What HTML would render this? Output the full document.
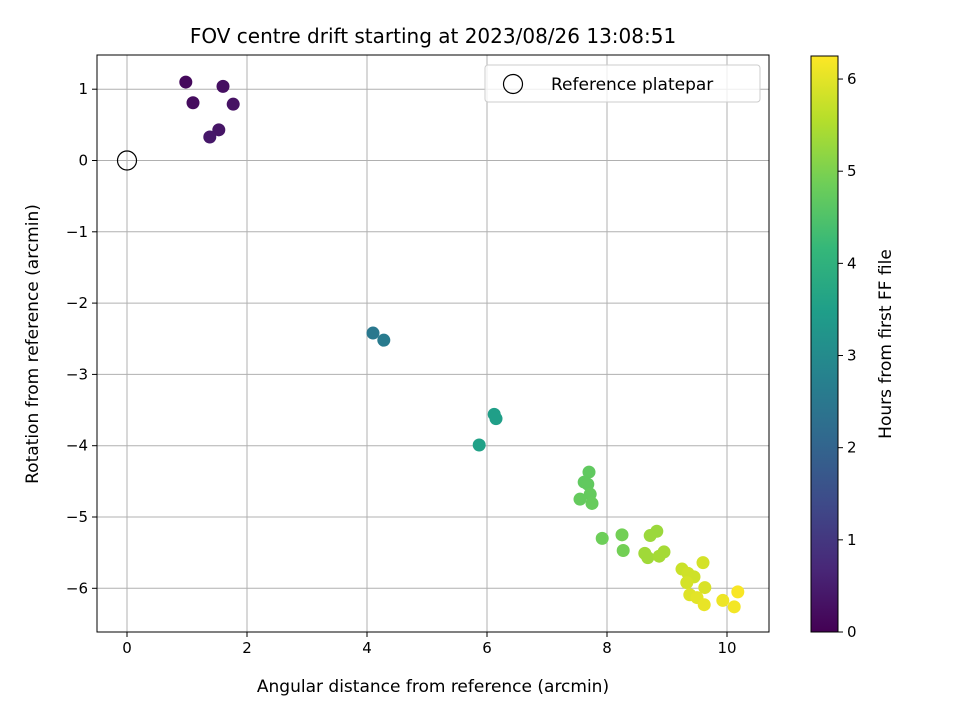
<!DOCTYPE html>
<html><head><meta charset="utf-8"><style>
body{margin:0;background:#fff;font-family:"Liberation Sans","DejaVu Sans",sans-serif;}
svg text{font-family:"DejaVu Sans","Liberation Sans",sans-serif;}
</style></head><body>
<svg id="c" width="960" height="720"></svg>
<script>
const xVals=[0.98,1.1,1.6,1.77,1.53,1.38,4.1,4.28,6.12,6.15,5.87,7.7,7.62,7.68,7.72,7.55,7.75,7.92,8.25,8.27,8.83,8.72,8.63,8.68,8.95,8.87,9.25,9.35,9.45,9.33,9.6,9.63,9.38,9.5,9.62,9.93,10.12,10.18];
const yVals=[1.10,0.81,1.04,0.79,0.43,0.33,-2.42,-2.52,-3.56,-3.62,-3.99,-4.37,-4.51,-4.54,-4.68,-4.75,-4.81,-5.3,-5.25,-5.47,-5.2,-5.26,-5.51,-5.57,-5.49,-5.55,-5.73,-5.79,-5.84,-5.92,-5.64,-5.99,-6.09,-6.13,-6.23,-6.17,-6.26,-6.05];
const hours=[0.15,0.2,0.25,0.3,0.35,0.4,2.5,2.6,3.5,3.5,3.55,4.7,4.7,4.72,4.75,4.75,4.78,4.85,4.9,4.9,5.3,5.3,5.35,5.35,5.4,5.4,5.75,5.8,5.8,5.85,5.85,5.9,5.95,6.0,6.05,6.1,6.15,6.2];
const xTicks=[0,2,4,6,8,10];
const yTicks=[1,0,-1,-2,-3,-4,-5,-6];
const cTicks=[0,1,2,3,4,5,6];
const NS="http://www.w3.org/2000/svg";
const svg=document.getElementById('c');
function el(t,a,p){const e=document.createElementNS(NS,t);for(const k in a)e.setAttribute(k,a[k]);(p||svg).appendChild(e);return e;}
const L=97,R=769,T=55,B=632;
const xs=v=>127+v*60, ys=v=>160.5-v*71.3;
const hMax=6.25, cs=v=>632-v*(576/hMax);
const vir=[[68,1,84],[72,40,120],[62,74,137],[49,104,142],[38,130,142],[31,158,137],[53,183,121],[110,206,88],[181,222,43],[253,231,37]];
function col(t){t=Math.max(0,Math.min(1,t))*9;const i=Math.min(8,Math.floor(t)),f=t-i,a=vir[i],b=vir[i+1];return `rgb(${a.map((v,k)=>Math.round(v+(b[k]-v)*f)).join(',')})`;}
// grid
xTicks.forEach(v=>{const g=el('line',{x1:xs(v),x2:xs(v),y1:T,y2:B,stroke:'#b0b0b0','stroke-width':1});
 const t=el('line',{x1:xs(v),x2:xs(v),y1:B,y2:B+5,stroke:'#000'});
 const l=el('text',{x:xs(v),y:B+21,'text-anchor':'middle','font-size':15});l.textContent=v;});
yTicks.forEach(v=>{const g=el('line',{x1:L,x2:R,y1:ys(v),y2:ys(v),stroke:'#b0b0b0','stroke-width':1});
 el('line',{x1:L-5,x2:L,y1:ys(v),y2:ys(v),stroke:'#000'});
 const l=el('text',{x:L-9,y:ys(v)+5,'text-anchor':'end','font-size':15});l.textContent=v<0?'\u2212'+(-v):v;});
// points
xVals.forEach((x,i)=>{const c=el('circle',{cx:xs(x),cy:ys(yVals[i]),r:6.5,fill:col(hours[i]/hMax)});});
const rc=el('circle',{cx:xs(0),cy:ys(0),r:9.5,fill:'none',stroke:'#000','stroke-width':1.2});
const fr=el('rect',{x:L,y:T,width:R-L,height:B-T,fill:'none',stroke:'#000','stroke-width':1});
// legend
const lg=el('g',{});
el('rect',{x:485,y:65,width:275,height:37,rx:3,fill:'#fff','fill-opacity':0.8,stroke:'#ccc'},lg);
el('circle',{cx:513,cy:84,r:9.5,fill:'none',stroke:'#000','stroke-width':1.2},lg);
const lt=el('text',{x:551,y:90,'font-size':17},lg);lt.textContent='Reference platepar';
// titles
const ti=el('text',{x:433,y:43,'text-anchor':'middle','font-size':20});ti.textContent='FOV centre drift starting at 2023/08/26 13:08:51';
const xt=el('text',{x:433,y:692,'text-anchor':'middle','font-size':17});xt.textContent='Angular distance from reference (arcmin)';
const yt=el('text',{x:38,y:344,'text-anchor':'middle','font-size':17,transform:'rotate(-90 38 344)'});yt.textContent='Rotation from reference (arcmin)';
// colorbar
const defs=el('defs',{});const gr=el('linearGradient',{id:'vg',x1:0,y1:1,x2:0,y2:0},defs);
vir.forEach((c,i)=>el('stop',{offset:i/9,'stop-color':`rgb(${c.join(',')})`},gr));
const cb=el('rect',{x:811,y:56,width:27,height:576,fill:'url(#vg)',stroke:'#000','stroke-width':1});
cTicks.forEach(v=>{el('line',{x1:838,x2:843,y1:cs(v),y2:cs(v),stroke:'#000'});const l=el('text',{x:847,y:cs(v)+5,'font-size':15});l.textContent=v;});
const ct=el('text',{x:891,y:344,'text-anchor':'middle','font-size':17,transform:'rotate(-90 891 344)'});ct.textContent='Hours from first FF file';
</script>
</body></html>
